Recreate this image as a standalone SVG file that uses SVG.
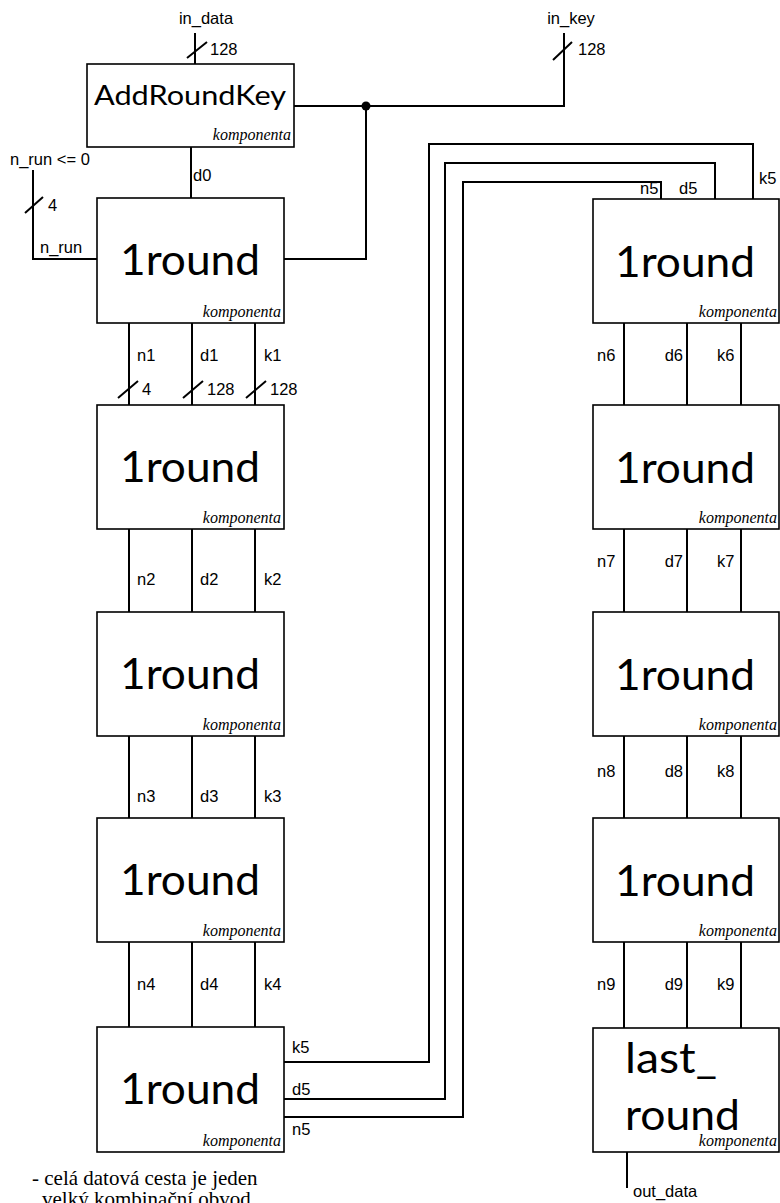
<svg xmlns="http://www.w3.org/2000/svg" width="780" height="1203" viewBox="0 0 780 1203">
<style>
.box{fill:#fff;stroke:#000;stroke-width:1.6}
.w{fill:none;stroke:#000;stroke-width:2}
.big{font-family:Lato,"Liberation Sans",sans-serif;font-size:42px;fill:#000}
.mid{font-family:Lato,"Liberation Sans",sans-serif;font-size:27px;fill:#000}
.komp{font-family:"Liberation Serif",serif;font-style:italic;font-size:16px;text-anchor:end;fill:#000}
.lbl{font-family:"Liberation Sans",Arial,sans-serif;font-size:16.5px;fill:#000}
.note{font-family:"Liberation Serif",serif;font-size:21px;fill:#000}
</style>
<rect width="780" height="1203" fill="#fff"/>
<g id="connectors">
<path class="w" d="M195,33 V64 M187,58 L207,42"/>
<path class="w" d="M564,33 V106 H294 M553,60 L572,42"/>
<path class="w" d="M366,106 V259 H284"/>
<circle cx="366" cy="106" r="4.5" fill="#000"/>
<path class="w" d="M191,147 V198"/>
<path class="w" d="M33,170 V259 H97 M25,213 L43,197"/>
<path class="w" d="M129,323 V405 M192,323 V405 M255,323 V405 M118,398 L138,381 M183,398 L203,381 M246,398 L266,381"/>
<path class="w" d="M129,529 V612 M192,529 V612 M255,529 V612"/>
<path class="w" d="M129,736 V818 M192,736 V818 M255,736 V818"/>
<path class="w" d="M129,942 V1027 M192,942 V1027 M255,942 V1027"/>
<path class="w" d="M284,1062 H429 V144 H753 V199"/>
<path class="w" d="M284,1099 H445 V163 H715 V199"/>
<path class="w" d="M284,1117 H463 V182 H661 V199"/>
<path class="w" d="M624,323 V405 M687,323 V405 M741,323 V405"/>
<path class="w" d="M624,529 V612 M687,529 V612 M741,529 V612"/>
<path class="w" d="M624,736 V818 M687,736 V818 M741,736 V818"/>
<path class="w" d="M624,942 V1028 M687,942 V1028 M741,942 V1028"/>
<path class="w" d="M627,1152 V1188"/>
<g class="lbl">
<text x="206" y="24" text-anchor="middle">in_data</text>
<text x="210" y="55">128</text>
<text x="571" y="24" text-anchor="middle">in_key</text>
<text x="578" y="55">128</text>
<text x="193" y="181">d0</text>
<text x="10" y="165">n_run &lt;= 0</text>
<text x="48" y="211">4</text>
<text x="40" y="253">n_run</text>
<text x="137" y="361">n1</text><text x="200" y="361">d1</text><text x="264" y="361">k1</text>
<text x="142" y="395">4</text><text x="207" y="395">128</text><text x="270" y="395">128</text>
<text x="137" y="585">n2</text><text x="200" y="585">d2</text><text x="264" y="585">k2</text>
<text x="137" y="802">n3</text><text x="200" y="802">d3</text><text x="264" y="802">k3</text>
<text x="137" y="990">n4</text><text x="200" y="990">d4</text><text x="264" y="990">k4</text>
<text x="292" y="1053">k5</text>
<text x="292" y="1095">d5</text>
<text x="292" y="1135">n5</text>
<text x="640" y="194">n5</text>
<text x="679" y="194">d5</text>
<text x="759" y="184">k5</text>
<text x="597" y="361">n6</text><text x="683" y="361" text-anchor="end">d6</text><text x="717" y="361">k6</text>
<text x="597" y="567">n7</text><text x="683" y="567" text-anchor="end">d7</text><text x="717" y="567">k7</text>
<text x="597" y="777">n8</text><text x="683" y="777" text-anchor="end">d8</text><text x="717" y="777">k8</text>
<text x="597" y="990">n9</text><text x="683" y="990" text-anchor="end">d9</text><text x="717" y="990">k9</text>
<text x="633" y="1197">out_data</text>
</g>
</g>
<g id="addroundkey">
<rect class="box" x="87" y="64" width="207" height="83"/>
<text class="mid" x="94" y="105" textLength="192" lengthAdjust="spacingAndGlyphs">AddRoundKey</text>
<text class="komp" x="291" y="140">komponenta</text>
</g>
<g id="round1">
<rect class="box" x="97" y="198" width="187" height="125"/>
<text class="big" x="120" y="275" textLength="140" lengthAdjust="spacingAndGlyphs">1round</text>
<text class="komp" x="281" y="317">komponenta</text>
</g>
<g id="round2">
<rect class="box" x="97" y="405" width="187" height="124"/>
<text class="big" x="120" y="482" textLength="140" lengthAdjust="spacingAndGlyphs">1round</text>
<text class="komp" x="281" y="523">komponenta</text>
</g>
<g id="round3">
<rect class="box" x="97" y="612" width="187" height="124"/>
<text class="big" x="120" y="689" textLength="140" lengthAdjust="spacingAndGlyphs">1round</text>
<text class="komp" x="281" y="730">komponenta</text>
</g>
<g id="round4">
<rect class="box" x="97" y="818" width="187" height="124"/>
<text class="big" x="120" y="895" textLength="140" lengthAdjust="spacingAndGlyphs">1round</text>
<text class="komp" x="281" y="936">komponenta</text>
</g>
<g id="round5">
<rect class="box" x="97" y="1027" width="187" height="125"/>
<text class="big" x="120" y="1104" textLength="140" lengthAdjust="spacingAndGlyphs">1round</text>
<text class="komp" x="281" y="1146">komponenta</text>
</g>
<g id="round6">
<rect class="box" x="593" y="199" width="186" height="124"/>
<text class="big" x="615" y="277" textLength="140" lengthAdjust="spacingAndGlyphs">1round</text>
<text class="komp" x="777" y="317">komponenta</text>
</g>
<g id="round7">
<rect class="box" x="593" y="405" width="186" height="124"/>
<text class="big" x="615" y="483" textLength="140" lengthAdjust="spacingAndGlyphs">1round</text>
<text class="komp" x="777" y="523">komponenta</text>
</g>
<g id="round8">
<rect class="box" x="593" y="612" width="186" height="124"/>
<text class="big" x="615" y="690" textLength="140" lengthAdjust="spacingAndGlyphs">1round</text>
<text class="komp" x="777" y="730">komponenta</text>
</g>
<g id="round9">
<rect class="box" x="593" y="818" width="186" height="124"/>
<text class="big" x="615" y="896" textLength="140" lengthAdjust="spacingAndGlyphs">1round</text>
<text class="komp" x="777" y="936">komponenta</text>
</g>
<g id="lastround">
<rect class="box" x="593" y="1028" width="186" height="124"/>
<text class="big" x="625" y="1073" textLength="92" lengthAdjust="spacingAndGlyphs">last_</text>
<text class="big" x="625" y="1130" textLength="115" lengthAdjust="spacingAndGlyphs">round</text>
<text class="komp" x="777" y="1146">komponenta</text>
</g>
<g id="note">
<text class="note" x="32" y="1185">- celá datová cesta je jeden</text>
<text class="note" x="42" y="1206">velký kombinační obvod</text>
</g>
</svg>
